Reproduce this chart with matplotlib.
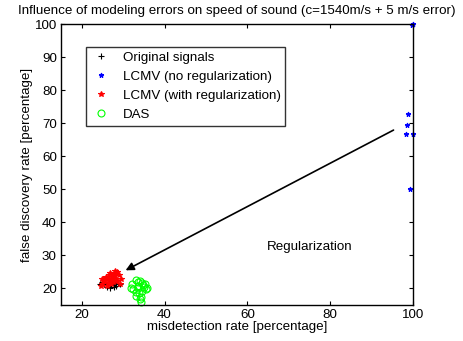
import numpy as np
import matplotlib
matplotlib.use('Agg')
import matplotlib.pyplot as plt

plt.rcParams['font.family'] = ['Liberation Sans', 'DejaVu Sans']

# original signals (black +)
orig_x = [24.5, 25.0, 25.5, 26.0, 26.3, 26.8, 27.0, 27.5, 28.0, 28.3, 28.8, 29.2, 25.2, 26.5, 27.8]
orig_y = [21.5, 22.0, 21.2, 20.5, 21.8, 20.0, 21.0, 22.3, 21.5, 20.8, 21.7, 21.2, 22.5, 22.8, 20.3]

# LCMV no regularization (blue *)
lcmv_x = [100, 99.8, 98.8, 98.6, 98.2, 99.9, 99.4]
lcmv_y = [100, 99.6, 72.8, 69.3, 66.8, 66.8, 50.1]

# LCMV with regularization (red *)
reg_x = [25.0, 25.5, 26.0, 26.3, 26.7, 27.0, 27.3, 27.7, 28.0, 28.2, 28.5, 29.0, 29.5, 26.0, 27.0,
         25.8, 26.5, 27.5, 28.5, 25.3, 27.9, 26.9, 24.6, 24.9, 29.2]
reg_y = [21.5, 22.3, 23.0, 21.8, 24.0, 22.5, 23.5, 24.5, 25.3, 23.0, 22.2, 24.0, 22.8, 20.8, 21.2,
         23.6, 22.9, 21.9, 25.0, 22.8, 23.8, 24.8, 20.8, 22.8, 21.5]

# DAS (green o)
das_x = [32.2, 33.0, 33.5, 34.0, 34.5, 35.0, 35.6, 33.2, 33.8, 34.3, 34.8, 33.5, 34.0, 34.2,
         32.5, 35.3, 33.7, 34.6, 32.0, 35.8, 33.1]
das_y = [21.5, 22.5, 20.0, 22.3, 21.8, 20.5, 19.8, 19.0, 18.5, 17.5, 21.0, 22.0, 16.8, 15.8,
         19.8, 21.2, 20.8, 19.2, 20.2, 20.2, 17.8]

fig = plt.figure(figsize=(4.64, 3.41), dpi=100)
ax = fig.add_axes([0.1315, 0.1056, 0.7585, 0.824])

ax.plot(orig_x, orig_y, '+', color='k', ms=5, mew=0.8, label='Original signals', clip_on=False)
ax.plot(lcmv_x, lcmv_y, '*', color='b', ms=3.5, mew=0.8, label='LCMV (no regularization)', clip_on=False)
ax.plot(reg_x, reg_y, '*', color='r', ms=4, mew=0.8, label='LCMV (with regularization)', clip_on=False)
ax.plot(das_x, das_y, 'o', color='#00ff00', mfc='none', ms=5, mew=0.8, label='DAS', clip_on=False)

ax.annotate('', xy=(30.0, 25.1), xytext=(95.9, 68.3),
            arrowprops=dict(arrowstyle='-|>', color='k', lw=1.2, mutation_scale=12))
ax.text(75, 32.6, 'Regularization', ha='center', va='center', fontsize=9.6)

ax.set_xlim(15, 100)
ax.set_ylim(15, 100)
ax.set_xticks([20, 40, 60, 80, 100])
ax.set_yticks([20, 30, 40, 50, 60, 70, 80, 90, 100])
ax.tick_params(direction='in', top=True, right=True, labelsize=9.6, length=3, pad=3)
for s in ax.spines.values():
    s.set_linewidth(1.0)

ax.set_xlabel('misdetection rate [percentage]', fontsize=9.6, labelpad=0)
ax.set_ylabel('false discovery rate [percentage]', fontsize=9.6, labelpad=1)
ax.set_title('Influence of modeling errors on speed of sound (c=1540m/s + 5 m/s error)',
             fontsize=9.6, pad=7)

leg = ax.legend(loc='upper left', bbox_to_anchor=(0.071, 0.918), fontsize=9.6, frameon=True,
                fancybox=False, edgecolor='k', handlelength=1.5, handletextpad=0.9,
                borderpad=0.35, labelspacing=0.5, borderaxespad=0, markerscale=1.0)
leg.get_frame().set_linewidth(1.0)

fig.savefig('out.png', dpi=100)
